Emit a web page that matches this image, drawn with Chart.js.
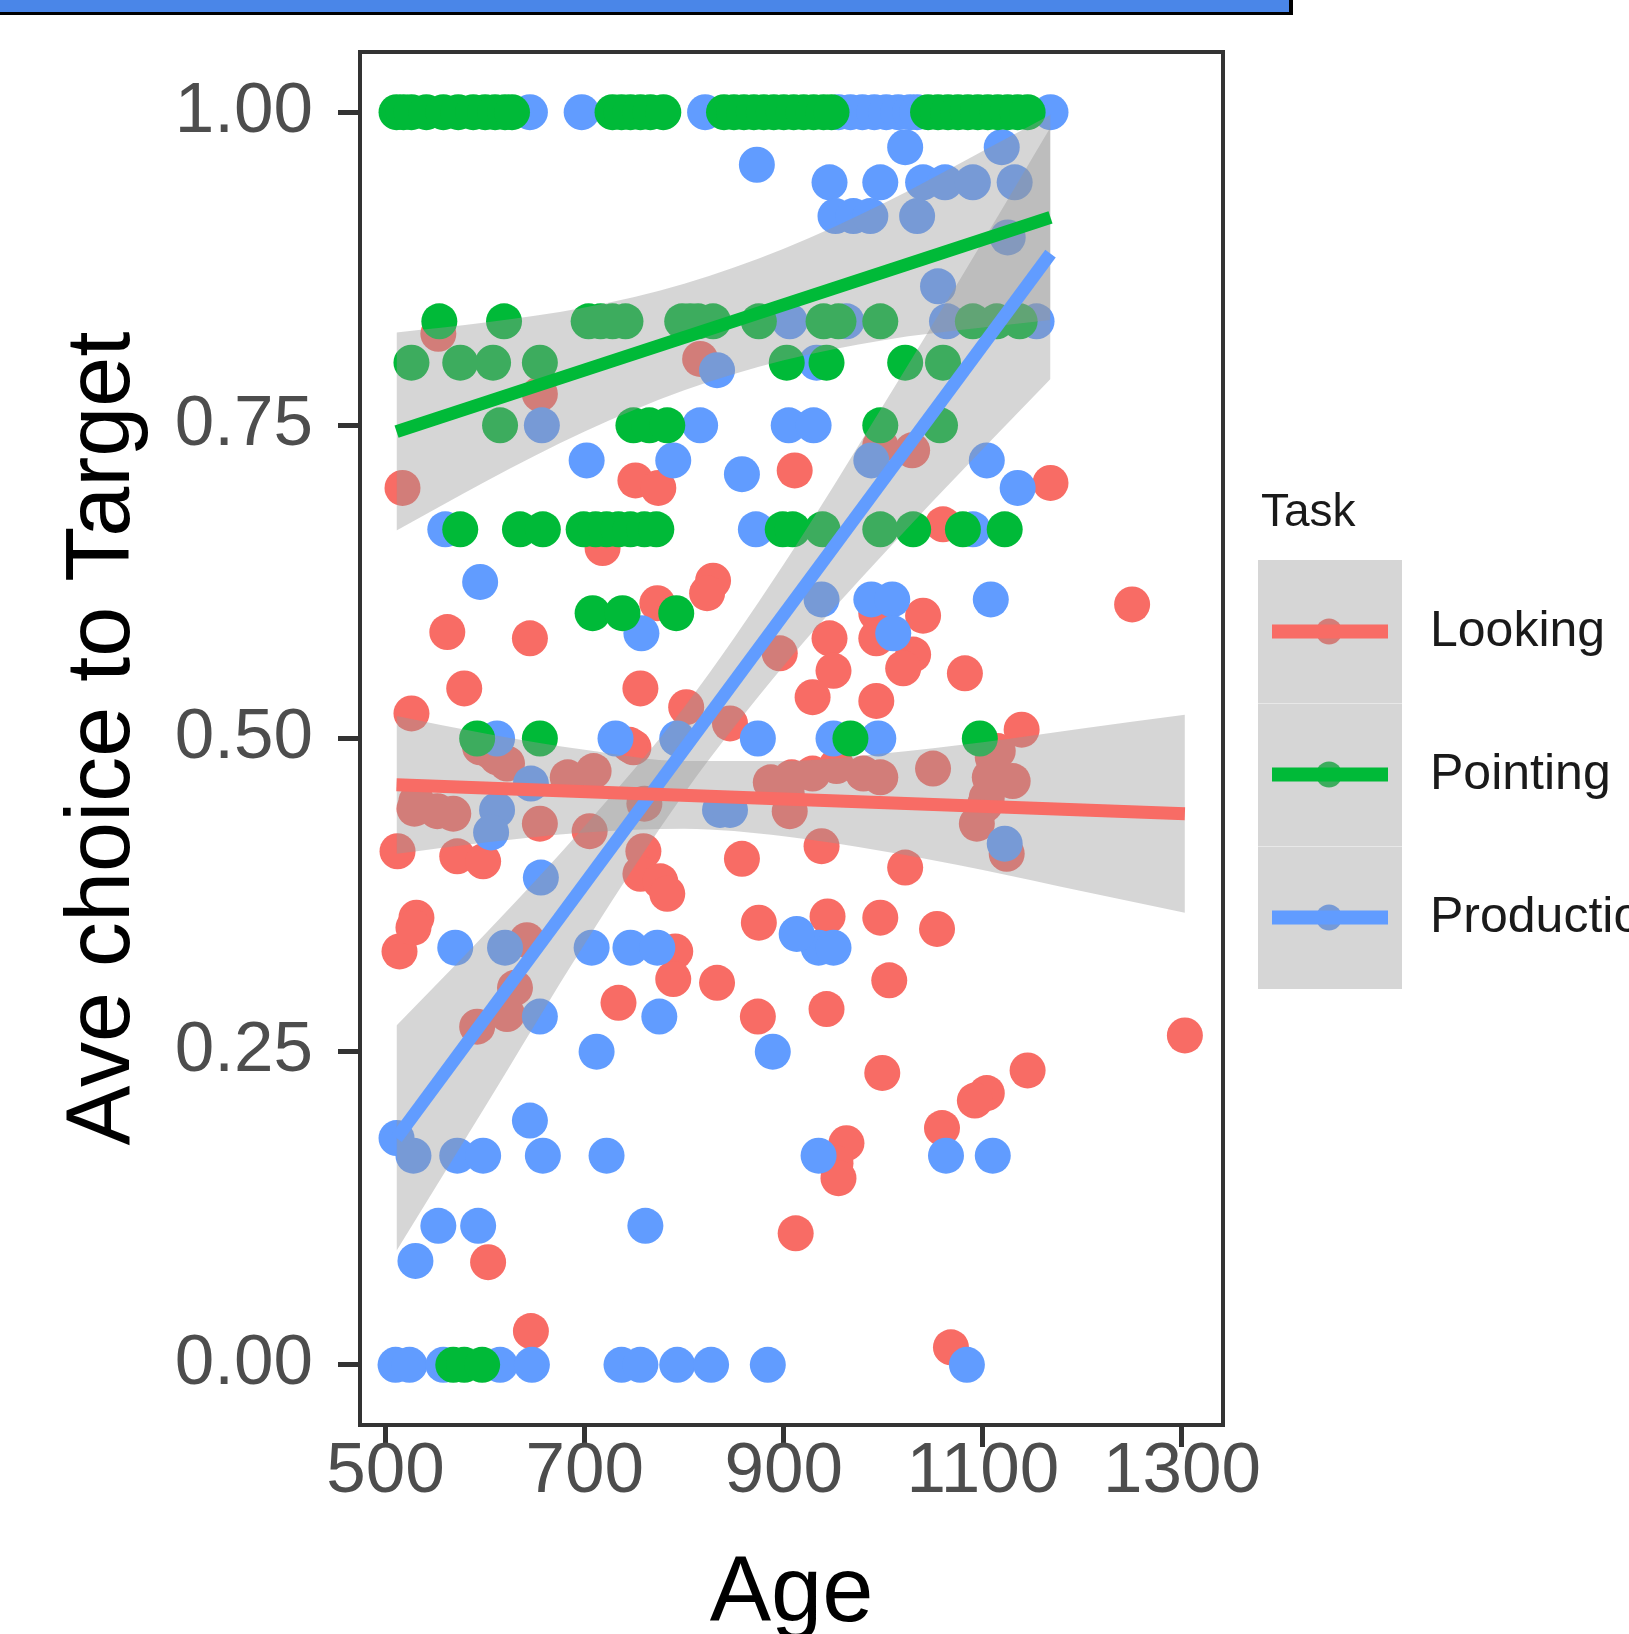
<!DOCTYPE html>
<html>
<head>
<meta charset="utf-8">
<title>Ave choice to Target by Age</title>
<script src="https://cdn.jsdelivr.net/npm/chart.js@4"></script>
<style>
  html, body { margin: 0; padding: 0; background: #fff; }
  #banner { position: absolute; left: 0; top: 0; width: 1289px; height: 12px; background: #4a86e8; border-right: 4px solid #000; border-bottom: 3px solid #000; }
  canvas { display: block; }
</style>
</head>
<body>
<div id="banner"></div>
<canvas id="chart" width="1629" height="1634"></canvas>
<script>
const taskNames = ["Looking", "Pointing", "Production"];
const taskColors = ["#F86C65", "#00BA38", "#619CFF"];
const ageTicks = [500, 700, 900, 1100, 1300];
const scoreTicks = [0, 0.25, 0.5, 0.75, 1];

// [age, average choice to target]
const looking = [
  [553,0.823],[816,0.803],[655,0.775],[997,0.734],[1029,0.73],[517,0.70],[751,0.706],[774,0.70],
  [911,0.714],[1168,0.704],[718,0.652],[1060,0.671],[1250,0.607],[829,0.626],[823,0.616],[773,0.608],
  [562,0.585],[645,0.58],[579,0.54],[756,0.54],[526,0.52],[802,0.525],[846,0.512],[896,0.568],
  [993,0.60],[993,0.58],[1040,0.598],[946,0.58],[1030,0.567],[1020,0.556],[950,0.554],[929,0.533],
  [993,0.53],[1082,0.552],[1139,0.507],[1115,0.49],[1110,0.485],[1130,0.466],[1107,0.469],[1104,0.453],
  [1094,0.432],[1124,0.408],[1102,0.447],[1050,0.476],[929,0.472],[953,0.478],[980,0.472],[997,0.469],
  [887,0.465],[908,0.469],[906,0.442],[938,0.414],[1022,0.397],[944,0.358],[997,0.357],[1054,0.348],
  [749,0.493],[595,0.493],[605,0.49],[612,0.485],[622,0.48],[709,0.474],[683,0.469],[745,0.495],
  [529,0.444],[552,0.442],[568,0.44],[531,0.45],[655,0.432],[705,0.426],[903,0.456],[760,0.448],
  [512,0.41],[572,0.406],[598,0.402],[759,0.41],[756,0.392],[776,0.386],[783,0.376],[858,0.404],
  [531,0.357],[875,0.353],[514,0.33],[528,0.349],[642,0.339],[791,0.33],[789,0.308],[833,0.305],
  [874,0.278],[734,0.289],[630,0.301],[622,0.28],[592,0.27],[1006,0.307],[943,0.284],[1303,0.263],
  [999,0.233],[1145,0.235],[1104,0.217],[1092,0.211],[1059,0.189],[963,0.177],[952,0.161],[955,0.149],
  [912,0.105],[603,0.082],[646,0.027],[1068,0.014]
];

const pointing = [
  [511,1],[518,1],[526,1],[541,1],[558,1],[573,1],[588,1],[600,1],[610,1],[620,1],[627,1],
  [728,1],[737,1],[746,1],[756,1],[766,1],[779,1],[840,1],[850,1],[860,1],[870,1],[880,1],
  [890,1],[900,1],[910,1],[920,1],[930,1],[940,1],[948,1],[1045,1],[1055,1],[1065,1],[1075,1],
  [1085,1],[1095,1],[1105,1],[1115,1],[1125,1],[1135,1],[1145,1],
  [554,0.833],[619,0.833],[704,0.833],[716,0.833],[728,0.833],[741,0.833],[798,0.833],[806,0.833],
  [814,0.833],[829,0.833],[875,0.833],[940,0.833],[955,0.833],[997,0.833],[1090,0.833],[1114,0.833],[1137,0.833],
  [526,0.8],[575,0.8],[608,0.8],[655,0.8],[903,0.8],[943,0.8],[1022,0.8],[1060,0.8],
  [615,0.75],[749,0.75],[765,0.75],[783,0.75],[997,0.75],[1057,0.75],
  [575,0.667],[635,0.667],[658,0.667],[699,0.667],[711,0.667],[722,0.667],[734,0.667],[746,0.667],
  [760,0.667],[772,0.667],[899,0.667],[909,0.667],[939,0.667],[997,0.667],[1030,0.667],[1080,0.667],[1122,0.667],
  [708,0.6],[738,0.6],[792,0.6],
  [592,0.5],[655,0.5],[967,0.5],[1097,0.5],
  [568,0],[579,0],[597,0]
];

const production = [
  [645,1],[697,1],[821,1],[955,1],[967,1],[979,1],[991,1],[1003,1],[1015,1],[1027,1],[1034,1],[1168,1],
  [1022,0.972],[1119,0.972],[873,0.958],
  [946,0.944],[997,0.944],[1040,0.944],[1062,0.944],[1090,0.944],[1132,0.944],
  [952,0.917],[970,0.917],[987,0.917],[1034,0.917],[1125,0.9],[1055,0.861],
  [906,0.833],[963,0.833],[1064,0.833],[1154,0.833],[833,0.794],[933,0.8],
  [657,0.75],[816,0.75],[905,0.75],[930,0.75],
  [702,0.722],[789,0.722],[988,0.722],[1104,0.722],[858,0.711],[1135,0.7],
  [560,0.667],[872,0.667],[1090,0.667],[595,0.625],
  [938,0.611],[988,0.611],[1009,0.611],[1108,0.611],[1010,0.584],[757,0.584],
  [612,0.5],[731,0.5],[793,0.5],[874,0.5],[950,0.5],[995,0.5],
  [646,0.464],[612,0.443],[836,0.443],[846,0.443],[606,0.425],[656,0.389],[1122,0.416],
  [570,0.333],[620,0.333],[707,0.333],[746,0.333],[773,0.333],[935,0.333],[950,0.333],[913,0.344],
  [655,0.278],[775,0.278],[712,0.25],[889,0.25],[511,0.181],[645,0.195],
  [528,0.167],[572,0.167],[598,0.167],[658,0.167],[722,0.167],[935,0.167],[1063,0.167],[1110,0.167],
  [553,0.111],[593,0.111],[761,0.111],[530,0.083],
  [510,0],[524,0],[558,0],[615,0],[647,0],[737,0],[756,0],[793,0],[827,0],[884,0],[1084,0]
];

// linear fits and their confidence bands
const lookingFitAge = [511, 1303];
const lookingFit = [0.463, 0.440];
const pointingFitAge = [511, 1168];
const pointingFit = [0.745, 0.916];
const productionFitAge = [511, 1168];
const productionFit = [0.181, 0.887];

const lookingBandAge = [511, 600, 700, 800, 900, 1000, 1100, 1200, 1303];
const lookingUpper = [0.518, 0.504, 0.491, 0.482, 0.482, 0.488, 0.497, 0.508, 0.519];
const lookingLower = [0.408, 0.417, 0.425, 0.428, 0.422, 0.410, 0.395, 0.378, 0.361];
const pointingBandAge = [511, 600, 700, 800, 900, 1000, 1100, 1168];
const pointingUpper = [0.824, 0.832, 0.844, 0.863, 0.891, 0.927, 0.969, 0.998];
const pointingLower = [0.666, 0.705, 0.745, 0.778, 0.802, 0.818, 0.828, 0.834];
const productionBandAge = [511, 600, 700, 800, 900, 1000, 1100, 1168];
const productionUpper = [0.271, 0.344, 0.430, 0.525, 0.639, 0.766, 0.897, 0.988];
const productionLower = [0.091, 0.206, 0.336, 0.456, 0.558, 0.647, 0.731, 0.787];

const FONT = '"Liberation Sans", Arial, sans-serif';
const bandFill = "rgba(153,153,153,0.4)";
Chart.defaults.font.family = FONT;

const toXY = (ages, vals) => ages.map((a, i) => ({ x: a, y: vals[i] }));

function pointSet(pairs, i, order) {
  return {
    label: taskNames[i],
    data: pairs.map(([x, y]) => ({ x, y })),
    backgroundColor: taskColors[i],
    pointRadius: 18,
    pointHoverRadius: 18,
    pointBorderWidth: 0,
    order: order
  };
}

function bandSet(ages, vals, isUpper) {
  return {
    type: "line",
    data: toXY(ages, vals),
    showLine: true,
    borderWidth: 0,
    borderColor: "rgba(0,0,0,0)",
    backgroundColor: bandFill,
    pointRadius: 0,
    cubicInterpolationMode: "monotone",
    fill: isUpper ? "+1" : false,
    order: 5
  };
}

function fitSet(ages, vals, i) {
  return {
    type: "line",
    data: toXY(ages, vals),
    showLine: true,
    borderColor: taskColors[i],
    borderWidth: 13,
    borderCapStyle: "butt",
    pointRadius: 0,
    fill: false,
    order: 1
  };
}

// full box round the panel, drawn over the marks
const panelBorder = {
  id: "panelBorder",
  afterDatasetsDraw(chart) {
    const { ctx, chartArea: a } = chart;
    ctx.save();
    ctx.strokeStyle = "#333333";
    ctx.lineWidth = 4;
    ctx.strokeRect(a.left, a.top, a.right - a.left, a.bottom - a.top);
    ctx.restore();
  }
};

// legend with grey keys, point + line glyph
const taskLegend = {
  id: "taskLegend",
  afterDraw(chart) {
    const ctx = chart.ctx;
    const left = 1258, top = 560, keyW = 144, rowH = 143;
    ctx.save();
    ctx.textBaseline = "middle";
    ctx.textAlign = "left";
    ctx.fillStyle = "#1a1a1a";
    ctx.font = "46px " + FONT;
    ctx.fillText("Task", 1261, 513);
    taskNames.forEach((name, i) => {
      const y0 = top + i * rowH;
      const cy = y0 + rowH / 2;
      ctx.fillStyle = taskColors[i];
      ctx.beginPath();
      ctx.arc(1329, cy, 13, 0, Math.PI * 2);
      ctx.fill();
      ctx.fillStyle = bandFill;
      ctx.fillRect(left, y0, keyW, rowH);
      ctx.strokeStyle = taskColors[i];
      ctx.lineWidth = 14;
      ctx.lineCap = "butt";
      ctx.beginPath();
      ctx.moveTo(1272, cy);
      ctx.lineTo(1388, cy);
      ctx.stroke();
      ctx.fillStyle = "#1a1a1a";
      ctx.font = "50px " + FONT;
      ctx.fillText(name, 1430, cy + 1);
    });
    ctx.strokeStyle = "rgba(255,255,255,0.45)";
    ctx.lineWidth = 1;
    for (let i = 1; i < taskNames.length; i++) {
      ctx.beginPath();
      ctx.moveTo(left, top + i * rowH + 0.5);
      ctx.lineTo(left + keyW, top + i * rowH + 0.5);
      ctx.stroke();
    }
    ctx.restore();
  }
};

const tickGrid = {
  display: true,
  drawOnChartArea: false,
  drawTicks: true,
  tickLength: 22,
  tickWidth: 5,
  tickColor: "#333333"
};

new Chart(document.getElementById("chart"), {
  type: "scatter",
  data: {
    datasets: [
      pointSet(looking, 0, 12),
      pointSet(production, 2, 11),
      pointSet(pointing, 1, 10),
      bandSet(lookingBandAge, lookingUpper, true),
      bandSet(lookingBandAge, lookingLower, false),
      bandSet(pointingBandAge, pointingUpper, true),
      bandSet(pointingBandAge, pointingLower, false),
      bandSet(productionBandAge, productionUpper, true),
      bandSet(productionBandAge, productionLower, false),
      fitSet(lookingFitAge, lookingFit, 0),
      fitSet(pointingFitAge, pointingFit, 1),
      fitSet(productionFitAge, productionFit, 2)
    ]
  },
  options: {
    responsive: false,
    animation: false,
    devicePixelRatio: 1,
    events: [],
    layout: { padding: { top: 52, right: 406, bottom: 0, left: 0 } },
    plugins: {
      legend: { display: false },
      tooltip: { enabled: false }
    },
    scales: {
      x: {
        type: "linear",
        min: 474.3,
        max: 1341.3,
        grid: tickGrid,
        border: { display: false },
        afterBuildTicks: (scale) => { scale.ticks = ageTicks.map(v => ({ value: v })); },
        afterFit: (scale) => { scale.height = 209; scale.paddingLeft = 0; scale.paddingRight = 0; },
        ticks: {
          autoSkip: false,
          maxRotation: 0,
          minRotation: 0,
          padding: -10,
          color: "#4D4D4D",
          font: { size: 71, lineHeight: 1 },
          callback: (v) => String(v)
        },
        title: {
          display: true,
          text: "Age",
          color: "#000",
          font: { size: 92, lineHeight: 0.8 },
          padding: { top: 0, bottom: 2 }
        }
      },
      y: {
        type: "linear",
        min: -0.048,
        max: 1.048,
        grid: tickGrid,
        border: { display: false },
        afterBuildTicks: (scale) => { scale.ticks = scoreTicks.map(v => ({ value: v })); },
        afterFit: (scale) => { scale.width = 360; scale.paddingTop = 0; scale.paddingBottom = 0; },
        ticks: {
          padding: 25,
          color: "#4D4D4D",
          font: { size: 71, lineHeight: 1 },
          callback: (v) => Number(v).toFixed(2)
        },
        title: {
          display: true,
          text: "Ave choice to Target",
          color: "#000",
          font: { size: 90, lineHeight: 1 },
          padding: { top: 59, bottom: 0 }
        }
      }
    }
  },
  plugins: [panelBorder, taskLegend]
});
</script>
</body>
</html>
